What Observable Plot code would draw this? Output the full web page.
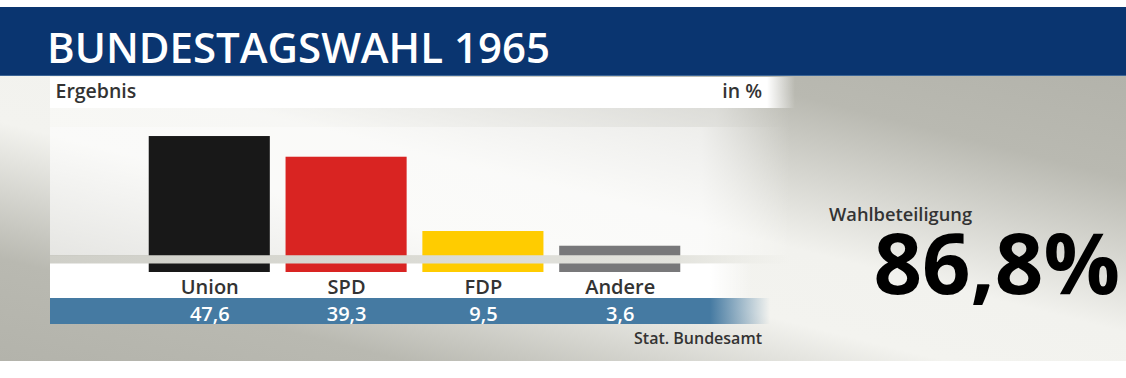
<!DOCTYPE html>
<html><head><meta charset="utf-8">
<script src="https://cdn.jsdelivr.net/npm/d3@7"></script>
<script src="https://cdn.jsdelivr.net/npm/@observablehq/plot@0.6"></script>
<style>
body{margin:0;background:#fff;font-family:"Open Sans",sans-serif;}
#wrap{position:relative;width:1126px;height:378px;overflow:hidden;background:#fff;}
.abs{position:absolute;}
.txt{position:absolute;line-height:1;white-space:nowrap;font-family:"Open Sans",sans-serif;}
</style>
</head><body>
<svg width="0" height="0" style="position:absolute">
  <defs>
    <linearGradient id="band" gradientUnits="userSpaceOnUse" x1="50" y1="0" x2="790" y2="0">
      <stop offset="0" stop-color="#cfcfc8"/>
      <stop offset="0.85" stop-color="#e3e3dd"/>
      <stop offset="1" stop-color="#e8e8e2" stop-opacity="0"/>
    </linearGradient>
  </defs>
</svg>
<div id="wrap">
  <div class="abs" style="left:0;top:76px;width:1126px;height:285px;background:linear-gradient(to bottom left,#b3b3ab 0%,#b9b9b1 18%,#f2f2ee 45%,#f3f3ef 58%,#b9b9b1 82%,#b3b3ab 100%);"></div>
  <div class="abs" style="left:50px;top:108px;width:740px;height:19px;background:linear-gradient(to right,rgba(255,255,255,.4) 0%,rgba(255,255,255,.4) 90%,rgba(255,255,255,0) 100%);"></div>
  <div class="abs" style="left:50px;top:127px;width:740px;height:128px;background:linear-gradient(to right,rgba(255,255,255,.6) 0%,rgba(255,255,255,.65) 88%,rgba(255,255,255,0) 100%);"></div>
  <div class="abs" style="left:0;top:7px;width:1126px;height:69px;background:#0a3570;border-bottom:1px solid #3c6596;box-sizing:border-box;"></div>
  <div class="abs" style="left:50px;top:77px;width:745px;height:31px;background:linear-gradient(to right,#fff 0,#fff 717px,rgba(255,255,255,0) 745px);"></div>
  <div class="abs" style="left:50px;top:263px;width:702px;height:35px;background:linear-gradient(to right,#fff 0,#fff 660px,rgba(255,255,255,0) 702px);"></div>
  <div class="abs" style="left:50px;top:298px;width:720px;height:25.5px;background:linear-gradient(to right,#457aa2 0,#457aa2 660px,rgba(69,122,162,0) 720px);"></div>
  <div id="chart" class="abs" style="left:0;top:0;"></div>
  <div id="title" class="txt" style="left:47px;top:25.7px;font-size:42px;font-weight:600;color:#fff;"></div>
  <div id="sub" class="txt" style="left:55.5px;top:80.7px;font-size:19.5px;font-weight:600;color:#333;"></div>
  <div id="unit" class="txt" style="right:364px;top:80.7px;font-size:19.5px;font-weight:600;color:#333;text-align:right;"></div>
  <div id="source" class="txt" style="right:364px;top:329.8px;font-size:16px;font-weight:600;color:#333;text-align:right;"></div>
  <div id="turnoutLabel" class="txt" style="left:829px;top:205px;font-size:18.3px;font-weight:600;color:#333;"></div>
  <div id="turnout" class="txt" style="right:6px;top:227px;line-height:0.8;font-size:85px;font-weight:700;color:#000;text-align:right;"></div>
</div>
<script>
const titleText = "BUNDESTAGSWAHL 1965";
const subtitleText = "Ergebnis";
const unitText = "in %";
const sourceText = "Stat. Bundesamt";
const turnoutLabelText = "Wahlbeteiligung";
const turnoutText = "86,8%";

const parties = ["Union", "SPD", "FDP", "Andere"];
const shares = [47.6, 39.3, 9.5, 3.6];
const shareLabels = ["47,6", "39,3", "9,5", "3,6"];
const partyColors = ["#181818", "#d92422", "#ffcc00", "#78787a"];

const data = parties.map((p, i) => ({party: p, share: shares[i], label: shareLabels[i]}));

document.getElementById("title").textContent = titleText;
document.getElementById("sub").textContent = subtitleText;
document.getElementById("unit").textContent = unitText;
document.getElementById("source").textContent = sourceText;
document.getElementById("turnoutLabel").textContent = turnoutLabelText;
document.getElementById("turnout").textContent = turnoutText;

const chart = Plot.plot({
  width: 1126,
  height: 378,
  marginLeft: 50,
  marginRight: 336,
  marginTop: 0,
  marginBottom: 123.3,
  style: {background: "transparent", overflow: "visible"},
  x: {domain: parties, range: [133, 696], padding: 0.115, round: false, axis: null},
  y: {domain: [0, 50], range: [254.7, 130.05], axis: null},
  color: {domain: parties, range: partyColors},
  marks: [
    Plot.rectY(data, {x: "party", y1: 0, y2: "share", fill: "party", insetBottom: -17.3}),
    Plot.ruleY([0], {stroke: "url(#band)", strokeWidth: 8.3, dy: 4.15}),
    Plot.text(data, {x: "party", text: "party", frameAnchor: "bottom", lineAnchor: "bottom", dy: 38.3,
      fill: "#333", fontSize: 20, fontWeight: 600, fontFamily: "Open Sans"}),
    Plot.text(data, {x: "party", text: "label", frameAnchor: "bottom", lineAnchor: "bottom", dy: 66,
      fill: "#fff", fontSize: 20, fontWeight: 600, fontFamily: "Open Sans"})
  ]
});
document.getElementById("chart").appendChild(chart);
</script>
</body></html>
